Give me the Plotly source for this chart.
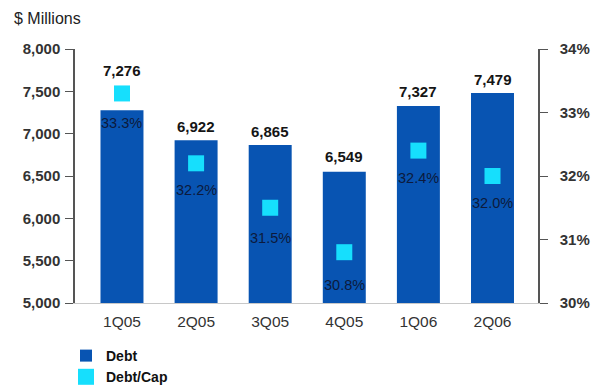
import plotly.graph_objects as go

quarters = ["1Q05", "2Q05", "3Q05", "4Q05", "1Q06", "2Q06"]
debt = [7276, 6922, 6865, 6549, 7327, 7479]
debt_cap = [33.3, 32.2, 31.5, 30.8, 32.4, 32.0]

left_ticks = [5000, 5500, 6000, 6500, 7000, 7500, 8000]
right_ticks = [30, 31, 32, 33, 34]

# label offsets in pixels (value labels above bars, % labels under markers)
debt_label_shift = [40, 14, 14, 15, 14, 14]
cap_label_shift = [-30, -27, -30, -33, -27, -27]

BAR_BLUE = "#0854B2"
CYAN = "#16DFFD"
FONT = "Liberation Sans, Arial, sans-serif"

W, H = 605, 390
M_L, M_R, M_T, M_B = 75, 67, 49, 87
PLOT_W = W - M_L - M_R
PLOT_H = H - M_T - M_B

fig = go.Figure()

fig.add_trace(go.Bar(
    x=quarters, y=debt, name="Debt",
    marker=dict(color=BAR_BLUE, line=dict(width=0)),
    width=0.58,
))

fig.add_trace(go.Scatter(
    x=quarters, y=debt_cap, name="Debt/Cap", yaxis="y2",
    mode="markers",
    marker=dict(symbol="square", size=16, color=CYAN, line=dict(width=0)),
    cliponaxis=False,
))

for q, v, s in zip(quarters, debt, debt_label_shift):
    fig.add_annotation(
        x=q, y=v, xref="x", yref="y", text=f"{v:,}",
        showarrow=False, yshift=s,
        font=dict(family=FONT, size=15, color="#151515", weight="bold"),
    )

for q, v, s in zip(quarters, debt_cap, cap_label_shift):
    fig.add_annotation(
        x=q, y=v, xref="x", yref="y2", text=f"{v:.1f}%",
        showarrow=False, yshift=s,
        font=dict(family=FONT, size=14.5, color="#0C1A3C"),
    )

# unit caption in the top-left corner
fig.add_annotation(
    x=(12 - M_L) / PLOT_W, y=(H - M_B - 18) / PLOT_H,
    xref="paper", yref="paper",
    text="$ Millions", showarrow=False, xanchor="left", yanchor="middle",
    font=dict(family=FONT, size=16, color="#222222"),
)

axis_font = dict(family=FONT, size=15, color="#333333", weight="bold")

fig.update_layout(
    width=W, height=H,
    margin=dict(l=M_L, r=M_R, t=M_T, b=M_B, autoexpand=False),
    paper_bgcolor="white", plot_bgcolor="white",
    font=dict(family=FONT),
    showlegend=True,
    legend=dict(
        xref="container", yref="container",
        x=66 / W, y=1 - 340 / H, xanchor="left", yanchor="top",
        orientation="v",
        font=dict(family=FONT, size=14, color="#111111", weight="bold"),
        itemwidth=30, tracegroupgap=0,
        bgcolor="rgba(0,0,0,0)",
    ),
    xaxis=dict(
        range=[-0.634, 5.614],
        showline=True, linecolor="#C8C8C8", linewidth=1,
        ticks="", showgrid=False,
        tickfont=dict(family=FONT, size=15.5, color="#333333"),
        ticklabelstandoff=4,
    ),
    yaxis=dict(
        range=[5000, 8000], tickvals=left_ticks,
        ticktext=[f"{v:,}" for v in left_ticks],
        showline=True, linecolor="#555555", linewidth=1.5,
        ticks="outside", ticklen=8, tickcolor="#555555", tickwidth=1,
        showgrid=False, zeroline=False,
        tickfont=axis_font, ticklabelstandoff=2,
    ),
    yaxis2=dict(
        range=[30, 34], tickvals=right_ticks,
        ticktext=[f"{v}%" for v in right_ticks],
        overlaying="y", side="right",
        showline=True, linecolor="#555555", linewidth=1.5,
        ticks="outside", ticklen=8, tickcolor="#555555", tickwidth=1,
        showgrid=False, zeroline=False,
        tickfont=axis_font, ticklabelstandoff=9,
    ),
)

fig.write_html("out.html")
